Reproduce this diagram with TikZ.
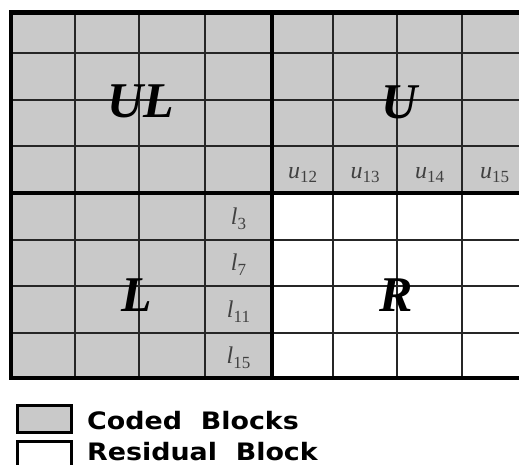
\documentclass[tikz,border=0pt]{standalone}
\usepackage{fontspec}
\setmainfont{Liberation Serif}
\newfontfamily\legendfont{DejaVu Sans}
\definecolor{codedgray}{RGB}{201,201,201}
\tikzset{
  thinline/.style={line width=2.3pt, draw=black!85},
  thickline/.style={line width=4.5pt, draw=black},
  bigletter/.style={font=\fontsize{50}{50}\selectfont\bfseries\itshape, inner sep=0pt},
  celllabel/.style={font=\fontsize{24}{24}\selectfont\itshape, text=black!75, inner sep=0pt},
  legendbox/.style={line width=3pt, draw=black},
  legendtext/.style={font=\legendfont\bfseries\fontsize{24}{24}\selectfont, anchor=base west, inner sep=0pt, xscale=1.12, transform shape}
}
\newcommand{\sublbl}[2]{#1\raisebox{-0.2em}{\fontsize{17}{17}\selectfont\upshape #2}}
\begin{document}
\begin{tikzpicture}[x=1pt,y=-1pt]
\useasboundingbox (0,0) rectangle (519,465);
\clip (0,0) rectangle (519,465);
% fills
\fill[codedgray] (11,12.5) rectangle (527,193);
\fill[codedgray] (11,193) rectangle (272,378);
% thin grid lines
\foreach \x in {75,139,205,333,397,462}
  \draw[thinline] (\x,12.5) -- (\x,378);
\foreach \y in {53,100,146,240,286,333}
  \draw[thinline] (11,\y) -- (527,\y);
% thick lines
\draw[thickline] (272,12.5) -- (272,378);
\draw[thickline] (11,193) -- (527,193);
\draw[thickline] (11,12.5) rectangle (527,378);
% quadrant letters
\node[bigletter] (ul) at (141,101) {UL};
\node[bigletter] (u) at (400,102) {U};
\node[bigletter] (l) at (137,295) {L};
\node[bigletter] (r) at (396,295) {R};
% u labels
\node[celllabel] (u12) at (302.5,175) {\sublbl{u}{12}};
\node[celllabel] (u13) at (365,175) {\sublbl{u}{13}};
\node[celllabel] (u14) at (429.5,175) {\sublbl{u}{14}};
\node[celllabel] (u15) at (494.5,175) {\sublbl{u}{15}};
% l labels
\node[celllabel] (l3) at (238.5,219) {\sublbl{l}{3}};
\node[celllabel] (l7) at (238.5,265) {\sublbl{l}{7}};
\node[celllabel] (l11) at (238.5,312) {\sublbl{l}{11}};
\node[celllabel] (l15) at (238.5,358) {\sublbl{l}{15}};
% legend
\draw[legendbox, fill=codedgray] (17,405) rectangle (71,432);
\draw[legendbox, fill=white] (17,441) rectangle (71,475);
\node[legendtext] (coded) at (87,429) {Coded\ \ Blocks};
\node[legendtext] (resid) at (87,460) {Residual\ \ Block};
\end{tikzpicture}
\end{document}
